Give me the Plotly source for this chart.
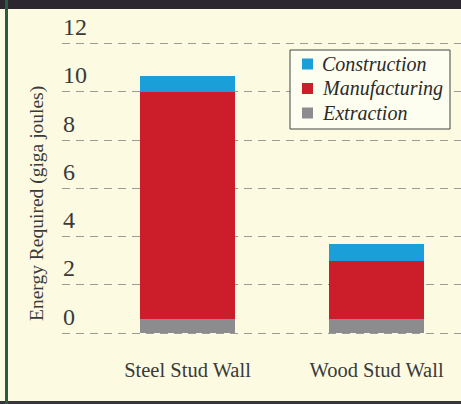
import plotly.graph_objects as go

# Data: embodied energy per wall type (GJ), by life-cycle stage
walls = ["Steel Stud Wall", "Wood Stud Wall"]
extraction = [0.6, 0.6]
manufacturing = [9.4, 2.4]
construction = [0.65, 0.7]

y_ticks = [0, 2, 4, 6, 8, 10, 12]

W, H = 461, 404
ML, MR, MT, MB = 62, 0, 10, 59
PW, PH = W - ML - MR, H - MT - MB


def px_x(px):
    return (px - ML) / PW


def px_y(py):
    return (H - MB - py) / PH


BG = "#fcfbe2"
TXT = "#3a3a3a"
SERIF = "Liberation Serif"

series = [
    ("Extraction", extraction, "#8c8c8e"),
    ("Manufacturing", manufacturing, "#cc1d2a"),
    ("Construction", construction, "#1b9fd8"),
]

fig = go.Figure()
for name, vals, col in series:
    fig.add_trace(go.Bar(
        x=walls, y=vals, name=name, width=0.5, showlegend=False,
        marker=dict(color=col, line=dict(width=0)),
    ))

# Boxed key, top entry first
shapes = [dict(type="rect", xref="paper", yref="paper",
               x0=px_x(290), x1=px_x(450), y0=px_y(129), y1=px_y(50),
               fillcolor="#fdfdf0", line=dict(color="#444444", width=1))]
annotations = []
for i, (name, _, col) in enumerate(reversed(series)):
    cy = 64 + 24.5 * i
    shapes.append(dict(type="rect", xref="paper", yref="paper",
                       x0=px_x(302), x1=px_x(313), y0=px_y(cy + 5.5), y1=px_y(cy - 5.5),
                       fillcolor=col, line=dict(width=0)))
    annotations.append(dict(
        text=name, xref="paper", yref="paper", x=px_x(320), y=px_y(cy),
        xanchor="left", yanchor="middle", showarrow=False,
        font=dict(family=SERIF, size=20, color="#2a2a2a", style="italic"),
    ))

annotations.append(dict(
    text="Energy Required (giga joules)", textangle=-90,
    xref="paper", yref="paper", x=px_x(37), y=px_y(204),
    xanchor="center", yanchor="middle", showarrow=False,
    font=dict(family=SERIF, size=19.5, color=TXT),
))

# Dark frame edges
shapes += [
    dict(type="rect", xref="paper", yref="paper", layer="above",
         x0=px_x(-5), x1=px_x(W + 5), y0=px_y(9), y1=px_y(-5),
         fillcolor="#2c2631", line=dict(width=0)),
    dict(type="rect", xref="paper", yref="paper", layer="above",
         x0=px_x(-5), x1=px_x(W + 5), y0=px_y(H + 5), y1=px_y(401),
         fillcolor="#34363a", line=dict(width=0)),
    dict(type="rect", xref="paper", yref="paper", layer="above",
         x0=px_x(5), x1=px_x(8), y0=px_y(H + 5), y1=px_y(-5),
         fillcolor="#2f5a3c", line=dict(width=0)),
]

fig.update_layout(
    width=W, height=H,
    margin=dict(l=ML, r=MR, t=MT, b=MB, pad=0),
    barmode="stack",
    paper_bgcolor=BG, plot_bgcolor=BG,
    font=dict(family=SERIF, color=TXT),
    showlegend=False,
    xaxis=dict(
        range=[-0.664, 1.447], showgrid=False, zeroline=False,
        showline=False, ticks="",
        tickfont=dict(family=SERIF, size=20.5, color=TXT),
        ticklabelstandoff=10,
    ),
    yaxis=dict(
        range=[-0.497, 13.39], tickvals=y_ticks,
        ticktext=[str(v) for v in y_ticks],
        ticklabelposition="inside top",
        ticklabelstandoff=-2,
        tickfont=dict(family=SERIF, size=24, color=TXT),
        showgrid=True, gridcolor="#9a9a96", gridwidth=1, griddash="8px,6px",
        zeroline=False, showline=False, ticks="",
    ),
    annotations=annotations,
    shapes=shapes,
)

fig.write_html("out.html")
